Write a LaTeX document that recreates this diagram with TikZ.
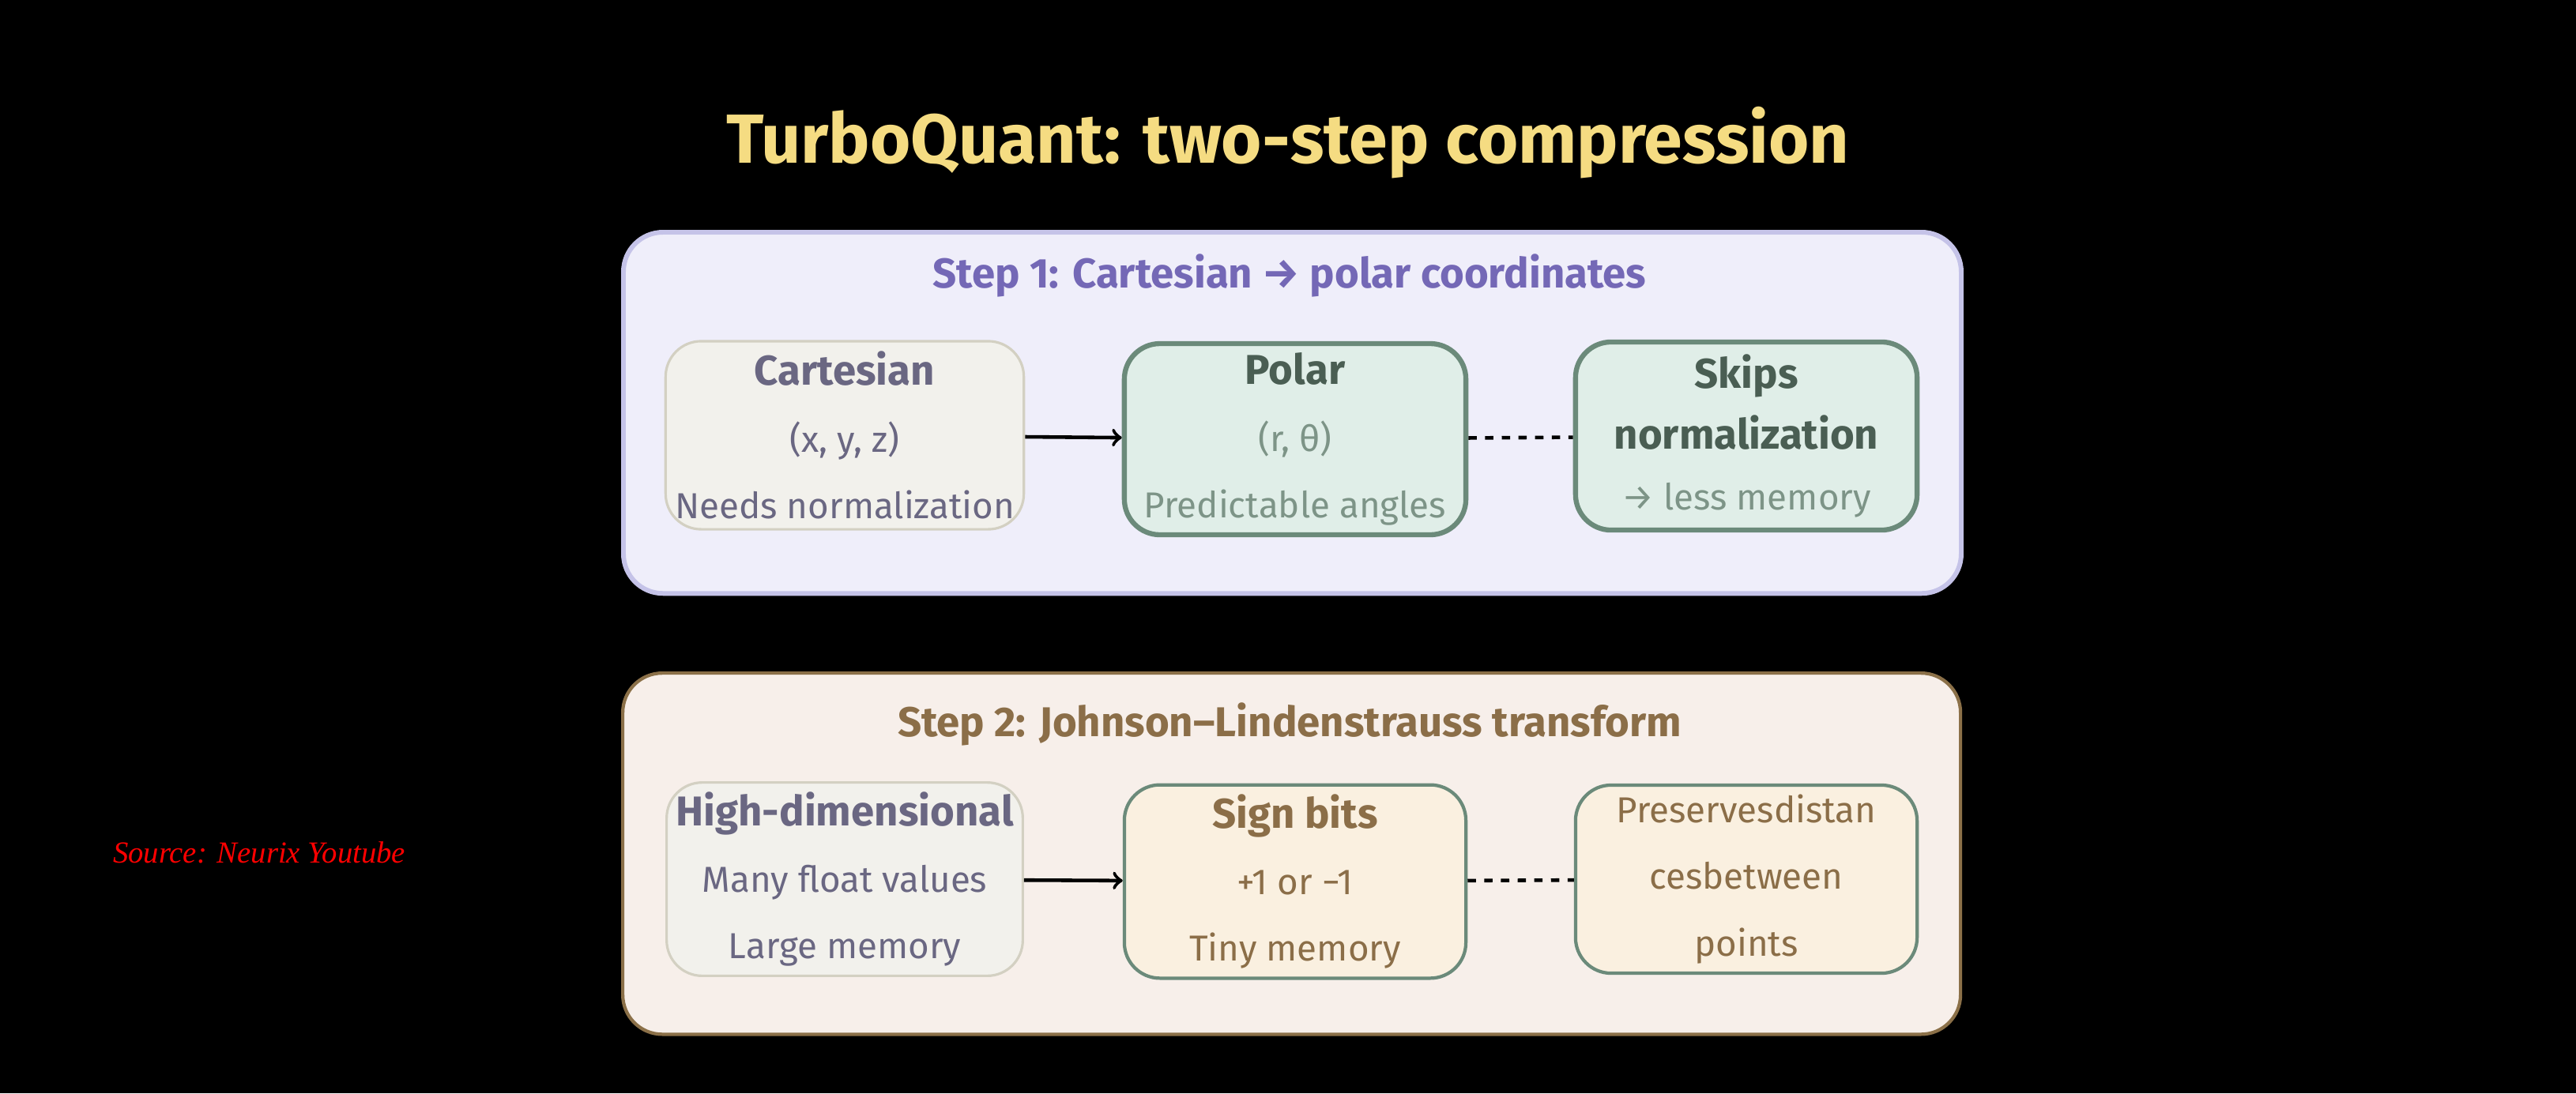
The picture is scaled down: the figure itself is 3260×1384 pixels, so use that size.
\documentclass[tikz,border=0pt]{standalone}
\usepackage{fontspec}
\setmainfont{Fira Sans}
\newfontfamily\srcfont{Liberation Serif}
\usetikzlibrary{positioning}

\definecolor{titleyel}{HTML}{F5DC82}
\definecolor{onefill}{HTML}{EFEEFA}
\definecolor{onedraw}{HTML}{C5C3E8}
\definecolor{onetext}{HTML}{7468B6}
\definecolor{twofill}{HTML}{F7EFEA}
\definecolor{twodraw}{HTML}{8B7048}
\definecolor{twotext}{HTML}{8B6E48}
\definecolor{greyfill}{HTML}{F2F1EC}
\definecolor{greydraw}{HTML}{D3D0C2}
\definecolor{greytext}{HTML}{6A6782}
\definecolor{greenfill}{HTML}{E0EEE8}
\definecolor{greendraw}{HTML}{6B8A7A}
\definecolor{greenhead}{HTML}{4A5E53}
\definecolor{greenbody}{HTML}{7D9487}
\definecolor{creamfill}{HTML}{FAF0E0}

\newcommand{\cardhead}[1]{{\bfseries\fontsize{15}{18}\selectfont #1}}

\tikzset{
  panel/.style={rectangle, rounded corners=0.5cm, line width=1.7pt, minimum width=16.92cm, minimum height=4.57cm},
  card/.style={rectangle, rounded corners=0.45cm, align=center, font=\fontsize{13}{24}\selectfont, minimum width=4.32cm, minimum height=2.38cm},
  plaincard/.style={card, draw=greydraw, fill=greyfill, line width=0.9pt, text=greytext},
  greencard/.style={card, draw=greendraw, fill=greenfill, line width=1.8pt, text=greenbody},
  creamcard/.style={card, draw=greendraw, fill=creamfill, line width=1.2pt, text=twotext},
  steptitle/.style={font=\bfseries\fontsize{15}{18}\selectfont}
}

\begin{document}
\begin{tikzpicture}[x=0.01cm, y=-0.01cm]

\fill[black] (0,0) rectangle (3260,1384);

\node at (1630,181) [text=titleyel, font=\bfseries\fontsize{25}{30}\selectfont] (title) {TurboQuant: two-step compression};

% step 1
\node at (786,291) [panel, anchor=north west, draw=onedraw, fill=onefill] (stepone) {};
\node at (1632,349) [steptitle, text=onetext] (steponetitle) {Step 1: Cartesian \textrightarrow\ polar coordinates};

\node at (1069,551) [plaincard] (cart) {\cardhead{Cartesian}\\(x, y, z)\\Needs normalization};
\node at (1639,556) [greencard] (polar) {\textcolor{greenhead}{\cardhead{Polar}}\\(r, θ)\\Predictable angles};
\node at (2210,552) [greencard, font=\fontsize{13}{22}\selectfont] (skips) {\textcolor{greenhead}{\cardhead{Skips}}\\\textcolor{greenhead}{\cardhead{normalization}}\\\textrightarrow\ less memory};

\draw[line width=1.3pt, ->] (cart) -- (polar);
\draw[line width=1.3pt, dashed] (polar) -- (skips);

% step 2
\node at (786,850) [panel, anchor=north west, draw=twodraw, fill=twofill, line width=1.2pt] (steptwo) {};
\node at (1632,917) [steptitle, text=twotext] (steptwotitle) {Step 2: Johnson–Lindenstrauss transform};

\node at (1069,1113) [plaincard] (highdim) {\cardhead{High-dimensional}\\Many float values\\Large memory};
\node at (1639,1116) [creamcard] (sign) {\cardhead{Sign bits}\\+1 or −1\\Tiny memory};
\node at (2210,1113) [creamcard, font=\fontsize{13}{24}\selectfont] (preserves) {Preservesdistan\\cesbetween\\points};

\draw[line width=1.3pt, ->] (highdim) -- (sign);
\draw[line width=1.3pt, dashed] (sign) -- (preserves);

\node at (328,1079) [text=red, font=\srcfont\itshape\fontsize{11}{13}\selectfont] (source) {Source: Neurix Youtube};

\end{tikzpicture}
\end{document}
